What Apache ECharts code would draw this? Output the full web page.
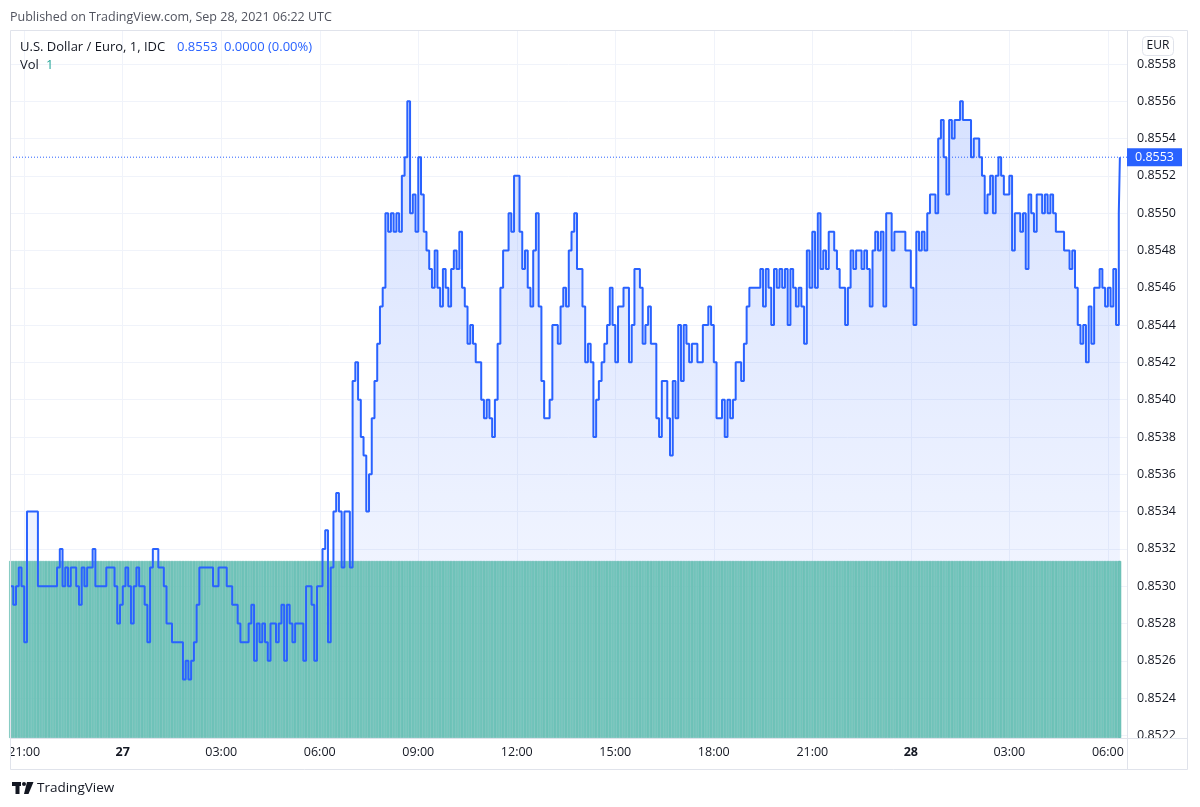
<!DOCTYPE html>
<html>
<head>
<meta charset="utf-8">
<script src="https://cdn.jsdelivr.net/npm/echarts@6/dist/echarts.min.js"></script>
<style>
  html, body { margin: 0; padding: 0; background: #ffffff; }
  #chart { width: 1200px; height: 807px; }
</style>
</head>
<body>
<div id="chart"></div>
<script>
// ---- data (5-minute samples of the 1-minute line) ----
const seriesStart = Date.UTC(2021, 8, 26, 20, 35);   // first sample
const sampleStepMs = 5 * 60 * 1000;
const lastTime = Date.UTC(2021, 8, 28, 6, 22);        // last print
const prices = [
  0.8530,0.8529,0.8530,0.8531,0.8530,0.8527,0.8534,0.8534,0.8534,0.8534,
  0.8530,0.8530,0.8530,0.8530,0.8530,0.8530,0.8530,0.8531,0.8532,0.8530,
  0.8531,0.8530,0.8531,0.8531,0.8530,0.8529,0.8531,0.8530,0.8531,0.8531,
  0.8532,0.8530,0.8530,0.8530,0.8530,0.8531,0.8531,0.8531,0.8530,0.8528,
  0.8529,0.8530,0.8531,0.8530,0.8528,0.8530,0.8531,0.8530,0.8530,0.8529,
  0.8527,0.8531,0.8532,0.8532,0.8531,0.8531,0.8530,0.8528,0.8528,0.8527,
  0.8527,0.8527,0.8527,0.8525,0.8526,0.8525,0.8526,0.8527,0.8529,0.8531,
  0.8531,0.8531,0.8531,0.8531,0.8530,0.8530,0.8531,0.8531,0.8531,0.8530,
  0.8530,0.8529,0.8529,0.8528,0.8527,0.8527,0.8527,0.8528,0.8529,0.8526,
  0.8528,0.8527,0.8528,0.8527,0.8526,0.8528,0.8528,0.8527,0.8528,0.8529,
  0.8526,0.8529,0.8528,0.8527,0.8528,0.8528,0.8528,0.8526,0.8530,0.8530,
  0.8529,0.8526,0.8530,0.8530,0.8532,0.8533,0.8527,0.8531,0.8534,0.8535,
  0.8534,0.8531,0.8534,0.8534,0.8531,0.8541,0.8542,0.8540,0.8538,0.8537,
  0.8534,0.8536,0.8539,0.8541,0.8543,0.8545,0.8546,0.8550,0.8549,0.8550,
  0.8549,0.8550,0.8549,0.8552,0.8553,0.8556,0.8550,0.8551,0.8549,0.8553,
  0.8551,0.8549,0.8548,0.8547,0.8546,0.8548,0.8546,0.8545,0.8547,0.8546,
  0.8545,0.8547,0.8548,0.8547,0.8549,0.8546,0.8545,0.8543,0.8544,0.8543,
  0.8542,0.8542,0.8540,0.8539,0.8540,0.8539,0.8538,0.8540,0.8543,0.8546,
  0.8548,0.8548,0.8550,0.8549,0.8552,0.8552,0.8549,0.8547,0.8548,0.8546,
  0.8545,0.8548,0.8550,0.8545,0.8541,0.8539,0.8539,0.8540,0.8544,0.8544,
  0.8543,0.8545,0.8546,0.8545,0.8548,0.8549,0.8550,0.8547,0.8547,0.8545,
  0.8542,0.8543,0.8542,0.8538,0.8540,0.8541,0.8542,0.8543,0.8544,0.8546,
  0.8544,0.8542,0.8545,0.8545,0.8546,0.8546,0.8542,0.8544,0.8547,0.8547,
  0.8546,0.8543,0.8544,0.8545,0.8543,0.8543,0.8539,0.8538,0.8541,0.8541,
  0.8539,0.8537,0.8541,0.8539,0.8544,0.8541,0.8544,0.8543,0.8542,0.8543,
  0.8543,0.8542,0.8542,0.8544,0.8544,0.8545,0.8544,0.8542,0.8539,0.8539,
  0.8540,0.8538,0.8540,0.8539,0.8540,0.8542,0.8542,0.8541,0.8543,0.8545,
  0.8546,0.8546,0.8546,0.8546,0.8547,0.8545,0.8547,0.8546,0.8544,0.8547,
  0.8546,0.8547,0.8546,0.8547,0.8544,0.8547,0.8546,0.8545,0.8546,0.8545,
  0.8543,0.8548,0.8546,0.8549,0.8546,0.8550,0.8547,0.8548,0.8547,0.8549,
  0.8549,0.8548,0.8547,0.8546,0.8546,0.8544,0.8546,0.8548,0.8547,0.8548,
  0.8548,0.8547,0.8548,0.8547,0.8545,0.8548,0.8549,0.8548,0.8549,0.8545,
  0.8550,0.8550,0.8548,0.8549,0.8549,0.8549,0.8549,0.8548,0.8548,0.8546,
  0.8544,0.8549,0.8548,0.8549,0.8548,0.8550,0.8551,0.8551,0.8550,0.8554,
  0.8555,0.8553,0.8551,0.8555,0.8554,0.8555,0.8555,0.8556,0.8555,0.8555,
  0.8555,0.8553,0.8554,0.8554,0.8553,0.8552,0.8550,0.8551,0.8552,0.8550,
  0.8552,0.8553,0.8552,0.8551,0.8551,0.8552,0.8548,0.8550,0.8550,0.8549,
  0.8550,0.8547,0.8551,0.8550,0.8549,0.8551,0.8551,0.8550,0.8551,0.8550,
  0.8551,0.8550,0.8549,0.8549,0.8549,0.8548,0.8548,0.8547,0.8548,0.8546,
  0.8544,0.8543,0.8544,0.8542,0.8545,0.8543,0.8546,0.8546,0.8547,0.8546,
  0.8545,0.8546,0.8545,0.8547,0.8544,0.8550,
  0.8553
];
// volume of every bar is 1 (legend "Vol 1")
const volumes = [
  1,1,1,1,1,1,1,1,1,1,1,1,1,1,1,1,1,1,1,1,1,1,1,1,1,1,1,1,1,1,1,1,1,1,1,1,1,1,1,1,1,1,1,1,1,1,1,1,1,1,
  1,1,1,1,1,1,1,1,1,1,1,1,1,1,1,1,1,1,1,1,1,1,1,1,1,1,1,1,1,1,1,1,1,1,1,1,1,1,1,1,1,1,1,1,1,1,1,1,1,1,
  1,1,1,1,1,1,1,1,1,1,1,1,1,1,1,1,1,1,1,1,1,1,1,1,1,1,1,1,1,1,1,1,1,1,1,1,1,1,1,1,1,1,1,1,1,1,1,1,1,1,
  1,1,1,1,1,1,1,1,1,1,1,1,1,1,1,1,1,1,1,1,1,1,1,1,1,1,1,1,1,1,1,1,1,1,1,1,1,1,1,1,1,1,1,1,1,1,1,1,1,1,
  1,1,1,1,1,1,1,1,1,1,1,1,1,1,1,1,1,1,1,1,1,1,1,1,1,1,1,1,1,1,1,1,1,1,1,1,1,1,1,1,1,1,1,1,1,1,1,1,1,1,
  1,1,1,1,1,1,1,1,1,1,1,1,1,1,1,1,1,1,1,1,1,1,1,1,1,1,1,1,1,1,1,1,1,1,1,1,1,1,1,1,1,1,1,1,1,1,1,1,1,1,
  1,1,1,1,1,1,1,1,1,1,1,1,1,1,1,1,1,1,1,1,1,1,1,1,1,1,1,1,1,1,1,1,1,1,1,1,1,1,1,1,1,1,1,1,1,1,1,1,1,1,
  1,1,1,1,1,1,1,1,1,1,1,1,1,1,1,1,1,1,1,1,1,1,1,1,1,1,1,1,1,1,1,1,1,1,1,1,1,1,1,1,1,1,1,1,1,1,1,1,1,1,
  1,1,1,1,1,1,1
];
const lastPrice = 0.8553;
const xTickTimes = [
  Date.UTC(2021,8,26,21), Date.UTC(2021,8,27,0), Date.UTC(2021,8,27,3), Date.UTC(2021,8,27,6),
  Date.UTC(2021,8,27,9), Date.UTC(2021,8,27,12), Date.UTC(2021,8,27,15), Date.UTC(2021,8,27,18),
  Date.UTC(2021,8,27,21), Date.UTC(2021,8,28,0), Date.UTC(2021,8,28,3), Date.UTC(2021,8,28,6)
];
const xTickLabels = ['21:00','27','03:00','06:00','09:00','12:00','15:00','18:00','21:00','28','03:00','06:00'];
const yTickValues = [0.8522,0.8524,0.8526,0.8528,0.8530,0.8532,0.8534,0.8536,0.8538,0.8540,
                     0.8542,0.8544,0.8546,0.8548,0.8550,0.8552,0.8554,0.8556,0.8558];
const yTickLabels = ['0.8522','0.8524','0.8526','0.8528','0.8530','0.8532','0.8534','0.8536','0.8538','0.8540',
                     '0.8542','0.8544','0.8546','0.8548','0.8550','0.8552','0.8554','0.8556','0.8558'];

// ---- build series data ----
const X_MIN = Date.UTC(2021, 8, 26, 20, 34);
const X_MAX = Date.UTC(2021, 8, 28, 6, 35);
const times = prices.map((p, i) => i < prices.length - 1 ? seriesStart + i * sampleStepMs : lastTime);
const priceData = prices.map((p, i) => [times[i], p]);
const volumeData = volumes.map((v, i) => [times[i], v]);
const lastLineData = [[X_MIN, lastPrice], [X_MAX, lastPrice]];

const FONT = '"Open Sans", "Noto Sans", sans-serif';
const TEXT = '#131722';
const BORDER = '#e0e3eb';
const GRIDC = '#f0f3fa';

function nearestLabel(list, labels, value) {
  let best = 0, bd = Infinity;
  list.forEach((v, i) => { const d = Math.abs(v - value); if (d < bd) { bd = d; best = i; } });
  return labels[best];
}

const chart = echarts.init(document.getElementById('chart'), null, { renderer: 'canvas' });
const option = {
  animation: false,
  backgroundColor: '#ffffff',
  textStyle: { fontFamily: FONT },
  grid: { left: 10, right: 73, top: 30, bottom: 69, containLabel: false },
  xAxis: {
    type: 'value',
    min: X_MIN,
    max: X_MAX,
    axisLine: { show: false },
    axisTick: { show: false, customValues: xTickTimes },
    splitLine: { show: true, lineStyle: { color: GRIDC, width: 1 } },
    axisLabel: {
      customValues: xTickTimes,
      margin: 8,
      color: TEXT,
      fontSize: 12.5,
      fontFamily: FONT,
      formatter: function (value) {
        const lab = nearestLabel(xTickTimes, xTickLabels, value);
        return lab.indexOf(':') < 0 ? '{b|' + lab + '}' : lab;
      },
      rich: { b: { fontWeight: 'bold', fontSize: 12.5, color: TEXT, fontFamily: FONT } }
    }
  },
  yAxis: [
    {
      type: 'value',
      position: 'right',
      min: 0.852186,
      max: 0.855982,
      axisLine: { show: false },
      axisTick: { show: false, customValues: yTickValues },
      splitLine: { show: true, lineStyle: { color: GRIDC, width: 1 } },
      axisLabel: {
        customValues: yTickValues,
        margin: 10,
        color: TEXT,
        fontSize: 12.5,
        fontFamily: FONT,
        formatter: function (value) { return nearestLabel(yTickValues, yTickLabels, value); }
      }
    },
    { type: 'value', min: 0, max: 4, show: false }
  ],
  series: [
    {
      name: 'area', type: 'line', step: 'end', data: priceData, z: 1,
      symbol: 'none', silent: true,
      lineStyle: { width: 0, opacity: 0 },
      areaStyle: {
        origin: 'start',
        color: new echarts.graphic.LinearGradient(0, 0, 0, 1, [
          { offset: 0, color: 'rgba(41,98,255,0.27)' },
          { offset: 1, color: 'rgba(41,98,255,0.04)' }
        ])
      }
    },
    {
      name: 'Vol', type: 'bar', yAxisIndex: 1, data: volumeData, z: 2,
      barWidth: 2.74, silent: true,
      itemStyle: { color: '#72c5bb', borderColor: '#5eb6ac', borderWidth: 0.5 }
    },
    {
      name: 'U.S. Dollar / Euro', type: 'line', step: 'end', data: priceData, z: 3,
      symbol: 'none', silent: true,
      lineStyle: { color: '#2962ff', width: 2 }
    },
    {
      name: 'last price', type: 'line', data: lastLineData, z: 4,
      symbol: 'none', silent: true, clip: false,
      lineStyle: { color: '#2962ff', type: [1, 2], width: 1 },
      endLabel: {
        show: true, distance: 0,
        formatter: function () { return lastPrice.toFixed(4); },
        color: '#ffffff', backgroundColor: '#2962ff',
        padding: [3, 8, 2, 8], fontSize: 12.5, fontFamily: FONT
      }
    }
  ],
  graphic: [
    { type: 'rect', z: 100, shape: { x: 0, y: 739, width: 10, height: 31 }, style: { fill: '#ffffff' } },
    { type: 'rect', z: 100, shape: { x: 1128, y: 739, width: 59, height: 30 }, style: { fill: '#ffffff' } },
    { type: 'rect', z: 101, shape: { x: 10.5, y: 30.5, width: 1177, height: 739 }, style: { fill: 'none', stroke: BORDER, lineWidth: 1 } },
    { type: 'line', z: 101, shape: { x1: 10, y1: 738.5, x2: 1188, y2: 738.5 }, style: { stroke: BORDER, lineWidth: 1 } },
    { type: 'line', z: 1, shape: { x1: 1127.5, y1: 30, x2: 1127.5, y2: 770 }, style: { stroke: BORDER, lineWidth: 1 } },
    { type: 'rect', z: 101, shape: { x: 1142.5, y: 36.5, width: 31, height: 19, r: 4 }, style: { fill: '#ffffff', stroke: BORDER, lineWidth: 1 } },
    { type: 'text', z: 102, x: 1158, y: 46, style: { text: 'EUR', fill: TEXT, font: '12px ' + FONT, textAlign: 'center', textVerticalAlign: 'middle' } },
    { type: 'text', z: 102, x: 10, y: 17, style: { text: 'Published on TradingView.com, Sep 28, 2021 06:22 UTC', fill: '#50535e', font: '12.5px ' + FONT, textVerticalAlign: 'middle' } },
    { type: 'text', z: 102, x: 20, y: 47, style: { text: 'U.S. Dollar / Euro, 1, IDC', fill: TEXT, font: '13px ' + FONT, textVerticalAlign: 'middle' } },
    { type: 'text', z: 102, x: 177, y: 47, style: { text: '0.8553', fill: '#2962ff', font: '13px ' + FONT, textVerticalAlign: 'middle' } },
    { type: 'text', z: 102, x: 224, y: 47, style: { text: '0.0000 (0.00%)', fill: '#2962ff', font: '13px ' + FONT, textVerticalAlign: 'middle' } },
    { type: 'text', z: 102, x: 20, y: 65, style: { text: 'Vol', fill: TEXT, font: '13px ' + FONT, textVerticalAlign: 'middle' } },
    { type: 'text', z: 102, x: 46, y: 65, style: { text: '1', fill: '#26a69a', font: '13px ' + FONT, textVerticalAlign: 'middle' } },
    { type: 'rect', z: 102, shape: { x: 12, y: 782, width: 9, height: 4 }, style: { fill: TEXT } },
    { type: 'rect', z: 102, shape: { x: 15.5, y: 782, width: 4, height: 12 }, style: { fill: TEXT } },
    { type: 'circle', z: 102, shape: { cx: 24, cy: 784, r: 2 }, style: { fill: TEXT } },
    { type: 'polygon', z: 102, shape: { points: [[27, 782], [33.5, 782], [28.5, 794], [24, 794]] }, style: { fill: TEXT } },
    { type: 'text', z: 102, x: 37, y: 788.5, style: { text: 'TradingView', fill: TEXT, font: '13.5px ' + FONT, textVerticalAlign: 'middle' } }
  ]
};
chart.setOption(option);
</script>
</body>
</html>
